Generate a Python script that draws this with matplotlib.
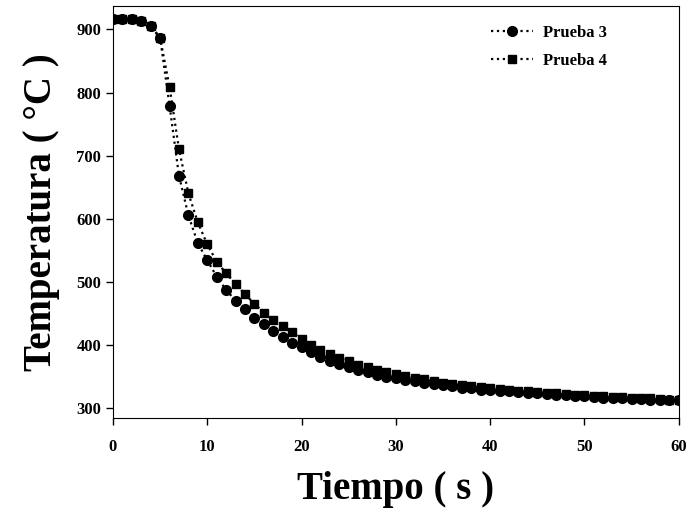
import numpy as np
import matplotlib.pyplot as plt

tiempo = np.arange(0, 61)

prueba3 = [917, 917, 916, 913, 906, 887, 779, 668, 605, 561,
           534, 508, 487, 470, 456, 443, 433, 422, 412, 403,
           396, 388, 381, 375, 369, 364, 360, 356, 352, 349,
           347, 344, 342, 340, 338, 336, 334, 332, 331, 329,
           328, 327, 326, 325, 324, 323, 322, 321, 320, 319,
           318, 317, 316, 316, 315, 314, 314, 313, 313, 312,
           312]

prueba4 = [917, 917, 916, 913, 906, 886, 809, 710, 640, 594,
           559, 532, 513, 497, 480, 465, 451, 439, 429, 420,
           409, 400, 392, 386, 379, 374, 368, 364, 360, 356,
           353, 350, 347, 345, 342, 340, 338, 336, 334, 333,
           331, 330, 328, 327, 326, 325, 324, 323, 322, 321,
           320, 319, 318, 317, 317, 316, 315, 315, 314, 313,
           313]

plt.rcParams['font.family'] = 'Liberation Serif'
plt.rcParams['font.weight'] = 'bold'

fig = plt.figure(figsize=(6.89, 5.14), dpi=100)
ax = fig.add_axes([0.164, 0.187, 0.821, 0.801])

ax.plot(tiempo, prueba3, color='black', linestyle=':', linewidth=1.6,
        marker='o', markersize=7, label='Prueba 3')
ax.plot(tiempo, prueba4, color='black', linestyle=':', linewidth=1.6,
        marker='s', markersize=6, label='Prueba 4')

ax.set_xlim(0, 60)
ax.set_ylim(284, 937)
ax.set_xticks(np.arange(0, 61, 10))
ax.set_yticks(np.arange(300, 901, 100))
ax.tick_params(direction='out', length=5, labelsize=12, width=1)
for lab in ax.get_xticklabels() + ax.get_yticklabels():
    lab.set_fontweight('bold')
ax.tick_params(axis='x', pad=10)

ax.set_xlabel('Tiempo ( s )', fontsize=28, fontweight='bold', labelpad=12)
ax.set_ylabel('Temperatura ( °C )', fontsize=28, fontweight='bold', labelpad=12)

leg = ax.legend(loc='upper right', frameon=False, fontsize=12,
                bbox_to_anchor=(0.90, 0.99), handlelength=2.5,
                handletextpad=0.6, labelspacing=0.7)

fig.savefig('out.png', dpi=100)
